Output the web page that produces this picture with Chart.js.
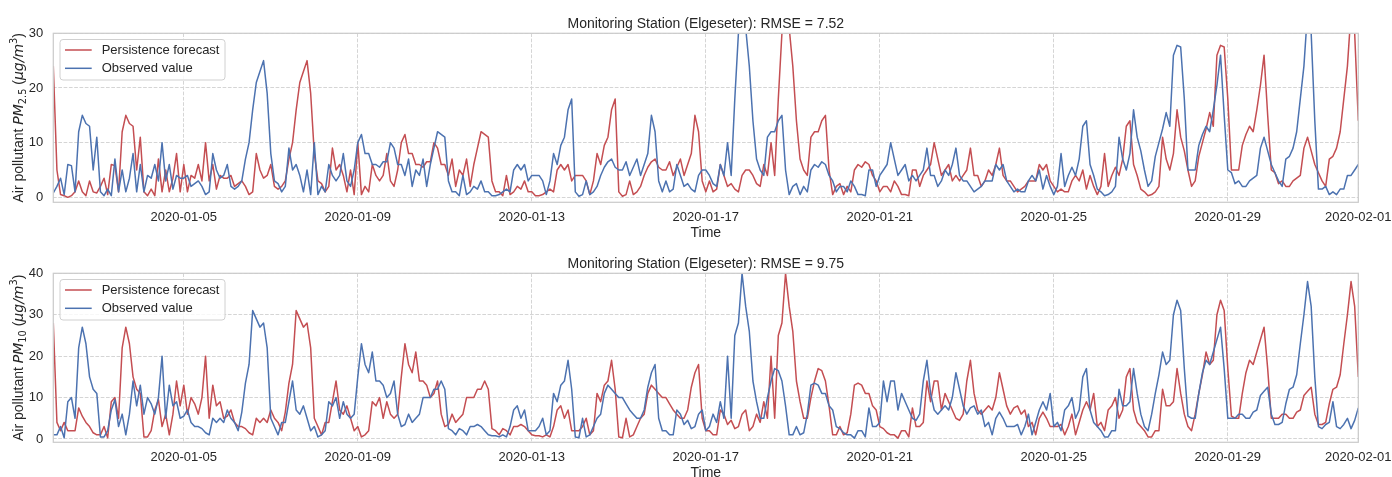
<!DOCTYPE html>
<html>
<head>
<meta charset="utf-8">
<script src="https://cdn.jsdelivr.net/npm/chart.js@4.4.1/dist/chart.umd.min.js"></script>
<style>
  html, body { margin: 0; padding: 0; background: #fff; }
  #wrap { position: relative; width: 1392px; height: 477px; overflow: hidden; }
  .panel { position: absolute; left: 0; width: 1392px; }
</style>
</head>
<body>
<div id="wrap">
  <div class="panel" style="top:0;height:240px"><canvas id="pm25-chart" width="1392" height="240"></canvas></div>
  <div class="panel" style="top:240px;height:237px"><canvas id="pm10-chart" width="1392" height="237"></canvas></div>
</div>
<script>
const START_DATE = '2020-01-02';
const END_DATE = '2020-02-01';
const STEP_HOURS = 2;

const timeTickLabels = ['2020-01-05', '2020-01-09', '2020-01-13', '2020-01-17', '2020-01-21', '2020-01-25', '2020-01-29', '2020-02-01'];
const pm25TickValues = [0, 10, 20, 30];
const pm10TickValues = [0, 10, 20, 30, 40];
const seriesNames = ['Persistence forecast', 'Observed value'];

// PM2.5, one row per day, every 2 hours from 00:00
const pm25Observed = [
  0.8, 2, 3.5, 0.5, 6, 5.8, 1, 12, 15, 13.5, 13, 5,        // 01-02
  11, 1, 0.3, 1.5, 0.3, 7, 1, 5, 1, 3.5, 8, 1,             // 01-03
  6, 1, 4, 3.5, 6, 3, 10, 3, 6, 1.5, 4, 3.5,               // 01-04
  3.5, 4, 2, 2.5, 3, 2, 0.5, 1, 8, 5, 3.5, 4,              // 01-05
  6, 2, 1.5, 2, 3, 7, 10, 16, 21, 23, 25, 19,              // 01-06
  8, 3, 2.5, 1, 2, 9, 5, 6, 4, 1, 5, 0.5,                  // 01-07
  10, 0.5, 2, 1, 6, 4, 3, 4, 8, 3, 2, 5,                   // 01-08
  10, 11.5, 8, 8, 6, 6, 5.5, 6.5, 6.5, 10, 9, 6,           // 01-09
  6, 4, 7, 2, 5, 4, 7, 2, 6, 9, 12, 11.5,                  // 01-10
  11, 3, 1, 1, 0.3, 4, 0.5, 1, 2, 1.5, 3, 1,               // 01-11
  1, 0.3, 0.3, 0.5, 1, 1.5, 1, 5, 6, 5, 6, 3,              // 01-12
  4, 4, 4, 3, 0.5, 3, 8, 6, 9.5, 11, 16, 18,               // 01-13
  1, 0.2, 0.5, 3, 0.5, 1, 2, 4, 5.5, 6.5, 7, 5.5,          // 01-14
  5, 5, 6.5, 4, 5.5, 7, 4, 6, 8, 15, 12, 3,                // 01-15
  1, 3, 1, 1.5, 6, 4, 2, 2.5, 1.5, 1, 4, 5,                // 01-16
  5, 4, 2.5, 2, 6, 4, 10, 4, 18, 30, 35, 31,               // 01-17
  24, 14, 7, 5, 4, 11, 12, 12, 14, 15, 5, 0.5,             // 01-18
  2, 2.5, 0.5, 2, 1, 5, 6, 5.5, 6.5, 6, 4, 3,              // 01-19
  1, 2, 2, 1, 3, 2, 0.5, 0.5, 0.3, 5, 5, 2,                // 01-20
  4, 5, 6, 10, 7, 4, 5, 6, 3, 4, 3, 4,                     // 01-21
  5, 9, 4, 4, 2, 3, 5, 4, 6, 9, 4, 3,                      // 01-22
  3, 2, 1, 1.5, 2, 3, 3, 3, 6, 5, 6, 3,                    // 01-23
  2, 1, 1.5, 1, 1, 3, 4, 3, 5, 1.5, 4, 2,                  // 01-24
  0.5, 2, 8, 2, 4, 5.5, 4, 7, 13, 14, 6, 4,                // 01-25
  1.5, 1, 0.3, 0.5, 1, 2, 11, 7, 5, 8, 16, 11,             // 01-26
  8.5, 5, 2, 3, 7.5, 10, 12.5, 15.5, 13, 26, 27.8, 27.5,   // 01-27
  18, 5, 5, 5, 9.5, 11.5, 13, 12, 16, 20.5, 26, 15,        // 01-28
  5, 4.5, 2.5, 3, 2, 2, 3, 3.5, 4, 9, 11, 8.5,             // 01-29
  6, 4.5, 3, 2, 7, 7.5, 9, 12, 18, 24, 34, 30,             // 01-30
  14, 1.5, 1.5, 2, 0.5, 1, 0.5, 1.5, 1.5, 4, 4, 5,         // 01-31
  6                                                        // 02-01
];

const pm25Persistence = [
  24, 5, 0.5, 0.3, 0, 0.3, 1, 3, 1, 0.3, 3, 1,             // 01-02
  0.8, 2, 3.5, 0.5, 6, 5.8, 1, 12, 15, 13.5, 13, 5,        // 01-03
  11, 1, 0.3, 1.5, 0.3, 7, 1, 5, 1, 3.5, 8, 1,             // 01-04
  6, 1, 4, 3.5, 6, 3, 10, 3, 6, 1.5, 4, 3.5,               // 01-05
  3.5, 4, 2, 2.5, 3, 2, 0.5, 1, 8, 5, 3.5, 4,              // 01-06
  6, 2, 1.5, 2, 3, 7, 10, 16, 21, 23, 25, 19,              // 01-07
  8, 3, 2.5, 1, 2, 9, 5, 6, 4, 1, 5, 0.5,                  // 01-08
  10, 0.5, 2, 1, 6, 4, 3, 4, 8, 3, 2, 5,                   // 01-09
  10, 11.5, 8, 8, 6, 6, 5.5, 6.5, 6.5, 10, 9, 6,           // 01-10
  6, 4, 7, 2, 5, 4, 7, 2, 6, 9, 12, 11.5,                  // 01-11
  11, 3, 1, 1, 0.3, 4, 0.5, 1, 2, 1.5, 3, 1,               // 01-12
  1, 0.3, 0.3, 0.5, 1, 1.5, 1, 5, 6, 5, 6, 3,              // 01-13
  4, 4, 4, 3, 0.5, 3, 8, 6, 9.5, 11, 16, 18,               // 01-14
  1, 0.2, 0.5, 3, 0.5, 1, 2, 4, 5.5, 6.5, 7, 5.5,          // 01-15
  5, 5, 6.5, 4, 5.5, 7, 4, 6, 8, 15, 12, 3,                // 01-16
  1, 3, 1, 1.5, 6, 4, 2, 2.5, 1.5, 1, 4, 5,                // 01-17
  5, 4, 2.5, 2, 6, 4, 10, 4, 18, 30, 35, 31,               // 01-18
  24, 14, 7, 5, 4, 11, 12, 12, 14, 15, 5, 0.5,             // 01-19
  2, 2.5, 0.5, 2, 1, 5, 6, 5.5, 6.5, 6, 4, 3,              // 01-20
  1, 2, 2, 1, 3, 2, 0.5, 0.5, 0.3, 5, 5, 2,                // 01-21
  4, 5, 6, 10, 7, 4, 5, 6, 3, 4, 3, 4,                     // 01-22
  5, 9, 4, 4, 2, 3, 5, 4, 6, 9, 4, 3,                      // 01-23
  3, 2, 1, 1.5, 2, 3, 3, 3, 6, 5, 6, 3,                    // 01-24
  2, 1, 1.5, 1, 1, 3, 4, 3, 5, 1.5, 4, 2,                  // 01-25
  0.5, 2, 8, 2, 4, 5.5, 4, 7, 13, 14, 6, 4,                // 01-26
  1.5, 1, 0.3, 0.5, 1, 2, 11, 7, 5, 8, 16, 11,             // 01-27
  8.5, 5, 2, 3, 7.5, 10, 12.5, 15.5, 13, 26, 27.8, 27.5,   // 01-28
  18, 5, 5, 5, 9.5, 11.5, 13, 12, 16, 20.5, 26, 15,        // 01-29
  5, 4.5, 2.5, 3, 2, 2, 3, 3.5, 4, 9, 11, 8.5,             // 01-30
  6, 4.5, 3, 2, 7, 7.5, 9, 12, 18, 24, 34, 30,             // 01-31
  14                                                       // 02-01
];

// PM10, same layout
const pm10Observed = [
  1, 1, 3, 0.3, 9, 10, 5, 22, 27, 23, 15, 12,              // 01-02
  11, 0.5, 0.5, 2, 7, 9.5, 3, 6, 1, 6, 14, 8,              // 01-03
  13, 6, 10, 8.5, 6, 10, 20, 5, 13, 8, 9, 5,               // 01-04
  5.5, 7, 4, 3, 3, 2.5, 1.5, 1, 5, 4, 5, 4,                // 01-05
  7, 5, 4, 2, 6.5, 13.5, 18, 31, 29, 27, 28, 22,           // 01-06
  5, 3, 1, 4, 4, 9, 14, 7, 6, 8, 5, 2,                     // 01-07
  3, 0.5, 1, 2, 9, 8, 10, 5, 9, 6, 5, 6,                   // 01-08
  15, 23, 18, 16, 21, 14, 14, 13, 10, 11, 14, 6,           // 01-09
  3, 3.5, 6, 4, 5, 6, 10, 10, 10, 12, 12, 14,              // 01-10
  12, 2.5, 2, 1, 2.5, 2, 1, 3, 3, 3.5, 3, 2,               // 01-11
  1, 0.8, 0.8, 0.5, 1, 0.5, 3, 7, 8, 5, 7, 2,              // 01-12
  2, 2, 3, 5, 1, 2, 11, 9, 13, 14, 19, 12,                 // 01-13
  0.5, 0.3, 5, 0.5, 1, 3, 5, 6, 11, 13, 12, 11,            // 01-14
  10, 10, 8.5, 7, 6, 5, 5, 7, 12.5, 16, 18, 5,             // 01-15
  2, 2, 1, 1, 7, 6, 3.5, 4.5, 2.5, 3, 6, 7,                // 01-16
  2, 3, 6, 4, 9, 5, 20, 5, 25, 28, 40, 32,                 // 01-17
  26, 14, 9, 5, 5, 10, 14, 17, 16.5, 14, 8, 1,             // 01-18
  1, 3, 1, 1.5, 6, 13, 13.5, 13, 11, 11, 8, 7,             // 01-19
  3, 2.5, 1.5, 1, 1, 0.2, 2, 2, 0.5, 7.5, 3, 3,            // 01-20
  4, 14, 9, 14, 14, 7, 11, 9, 7, 5, 4.5, 6,                // 01-21
  14, 19, 11, 7, 6, 7, 8, 7, 10, 16, 12, 8,                // 01-22
  6, 7.5, 8, 6, 7, 3, 4, 1, 5, 6.5, 5, 3,                  // 01-23
  3, 3, 3.5, 1, 3, 6, 1, 4, 7, 9, 7, 11,                   // 01-24
  3, 4, 2, 7, 8, 10, 5, 7, 15, 17, 7, 4,                   // 01-25
  3, 2, 0.5, 0.5, 2, 2, 12, 8, 8, 9, 17, 11,               // 01-26
  6, 3, 2, 6, 11, 15.5, 21, 18, 19, 30, 33.5, 31,          // 01-27
  17, 5.5, 5, 5, 11, 16, 19, 18, 21, 24, 27, 17,           // 01-28
  5, 5, 5, 6, 6, 5, 5, 6.5, 7, 10.5, 11.5, 12.5,           // 01-29
  6, 3.5, 3.5, 4, 8.5, 12, 12.5, 15.5, 23, 30, 38, 32,     // 01-30
  15, 3, 2.5, 3.5, 4, 9, 3, 2.5, 3.5, 5, 2.5, 4.5,         // 01-31
  7.5                                                      // 02-01
];

const pm10Persistence = [
  28, 4, 2, 4, 2, 2, 2, 7.5, 5.5, 4, 3, 1.5,               // 01-02
  1, 1, 3, 0.3, 9, 10, 5, 22, 27, 23, 15, 12,              // 01-03
  11, 0.5, 0.5, 2, 7, 9.5, 3, 6, 1, 6, 14, 8,              // 01-04
  13, 6, 10, 8.5, 6, 10, 20, 5, 13, 8, 9, 5,               // 01-05
  5.5, 7, 4, 3, 3, 2.5, 1.5, 1, 5, 4, 5, 4,                // 01-06
  7, 5, 4, 2, 6.5, 13.5, 18, 31, 29, 27, 28, 22,           // 01-07
  5, 3, 1, 4, 4, 9, 14, 7, 6, 8, 5, 2,                     // 01-08
  3, 0.5, 1, 2, 9, 8, 10, 5, 9, 6, 5, 6,                   // 01-09
  15, 23, 18, 16, 21, 14, 14, 13, 10, 11, 14, 6,           // 01-10
  3, 3.5, 6, 4, 5, 6, 10, 10, 10, 12, 12, 14,              // 01-11
  12, 2.5, 2, 1, 2.5, 2, 1, 3, 3, 3.5, 3, 2,               // 01-12
  1, 0.8, 0.8, 0.5, 1, 0.5, 3, 7, 8, 5, 7, 2,              // 01-13
  2, 2, 3, 5, 1, 2, 11, 9, 13, 14, 19, 12,                 // 01-14
  0.5, 0.3, 5, 0.5, 1, 3, 5, 6, 11, 13, 12, 11,            // 01-15
  10, 10, 8.5, 7, 6, 5, 5, 7, 12.5, 16, 18, 5,             // 01-16
  2, 2, 1, 1, 7, 6, 3.5, 4.5, 2.5, 3, 6, 7,                // 01-17
  2, 3, 6, 4, 9, 5, 20, 5, 25, 28, 40, 32,                 // 01-18
  26, 14, 9, 5, 5, 10, 14, 17, 16.5, 14, 8, 1,             // 01-19
  1, 3, 1, 1.5, 6, 13, 13.5, 13, 11, 11, 8, 7,             // 01-20
  3, 2.5, 1.5, 1, 1, 0.2, 2, 2, 0.5, 7.5, 3, 3,            // 01-21
  4, 14, 9, 14, 14, 7, 11, 9, 7, 5, 4.5, 6,                // 01-22
  14, 19, 11, 7, 6, 7, 8, 7, 10, 16, 12, 8,                // 01-23
  6, 7.5, 8, 6, 7, 3, 4, 1, 5, 6.5, 5, 3,                  // 01-24
  3, 3, 3.5, 1, 3, 6, 1, 4, 7, 9, 7, 11,                   // 01-25
  3, 4, 2, 7, 8, 10, 5, 7, 15, 17, 7, 4,                   // 01-26
  3, 2, 0.5, 0.5, 2, 2, 12, 8, 8, 9, 17, 11,               // 01-27
  6, 3, 2, 6, 11, 15.5, 21, 18, 19, 30, 33.5, 31,          // 01-28
  17, 5.5, 5, 5, 11, 16, 19, 18, 21, 24, 27, 17,           // 01-29
  5, 5, 5, 6, 6, 5, 5, 6.5, 7, 10.5, 11.5, 12.5,           // 01-30
  6, 3.5, 3.5, 4, 8.5, 12, 12.5, 15.5, 23, 30, 38, 32,     // 01-31
  15                                                       // 02-01
];

const FONT = "'Liberation Sans', Arial, Helvetica, sans-serif";
const MATH_FONT = "'DejaVu Sans', sans-serif";
const TEXT_COLOR = '#262626';
const RED = '#c44e52';
const BLUE = '#4c72b0';

document.addEventListener('DOMContentLoaded', function() {

    Chart.defaults.font.family = FONT;
    Chart.defaults.color = TEXT_COLOR;

    drawPanel('pm25-chart', {
        title: 'Monitoring Station (Elgeseter): RMSE = 7.52',
        pollutantSub: '2.5',
        yMin: -0.91,
        yMax: 30,
        yTicks: pm25TickValues,
        observed: pm25Observed,
        persistence: pm25Persistence
    });

    drawPanel('pm10-chart', {
        title: 'Monitoring Station (Elgeseter): RMSE = 9.75',
        pollutantSub: '10',
        yMin: -0.8,
        yMax: 40,
        yTicks: pm10TickValues,
        observed: pm10Observed,
        persistence: pm10Persistence
    });
})


function hoursFromStart(dateText){
    return (Date.parse(dateText) - Date.parse(START_DATE)) / 3600000;
}

function toPoints(values){
    return values.map((v, i) => ({ x: i * STEP_HOURS, y: v }));
}


function drawPanel(canvasId, panel){

    const xTickValues = timeTickLabels.map(hoursFromStart);
    const colors = [RED, BLUE];

    new Chart(document.getElementById(canvasId), {
        type: 'line',
        data: {
            datasets: [
                { label: seriesNames[0], data: toPoints(panel.persistence), borderColor: RED, order: 2 },
                { label: seriesNames[1], data: toPoints(panel.observed), borderColor: BLUE, order: 1 }
            ]
        },
        options: {
            responsive: false,
            animation: false,
            events: [],
            clip: 0,
            elements: {
                line: { borderWidth: 1.5, tension: 0, borderJoinStyle: 'round' },
                point: { radius: 0 }
            },
            layout: { padding: { left: 0, right: 33.7, top: 33.3, bottom: panelBottomPad(canvasId) } },
            plugins: { legend: { display: false }, tooltip: { enabled: false } },
            scales: {
                x: {
                    type: 'linear',
                    min: 0,
                    max: hoursFromStart(END_DATE),
                    // fixed height, and the last date label may hang past the axes
                    afterFit: s => { s.height = 30; s.paddingLeft = 0; s.paddingRight = 0; },
                    afterBuildTicks: s => { s.ticks = xTickValues.map(v => ({ value: v })); },
                    grid: { color: '#d5d5d5', lineWidth: 1, drawTicks: false },
                    border: { display: false, dash: [3.7, 1.6] },
                    ticks: {
                        autoSkip: false,
                        maxRotation: 0,
                        padding: 7,
                        font: { size: 13 },
                        color: TEXT_COLOR,
                        callback: v => timeTickLabels[xTickValues.indexOf(v)]
                    }
                },
                y: {
                    min: panel.yMin,
                    max: panel.yMax,
                    afterFit: s => { s.width = 53.3; s.paddingTop = 0; s.paddingBottom = 0; },
                    afterBuildTicks: s => { s.ticks = panel.yTicks.map(v => ({ value: v })); },
                    grid: { color: '#d5d5d5', lineWidth: 1, drawTicks: false },
                    border: { display: false, dash: [3.7, 1.6] },
                    ticks: { padding: 10, font: { size: 13 }, color: TEXT_COLOR }
                }
            }
        },
        plugins: [panelDecor(panel, colors)]
    });
}

function panelBottomPad(canvasId){
    const h = document.getElementById(canvasId).height;
    return h - 202.3 - 30;
}


function panelDecor(panel, colors){

    return {
        id: 'panelDecor',
        afterDatasetsDraw(chart){
            const { ctx, chartArea: a } = chart;
            ctx.save();

            // spines
            ctx.strokeStyle = '#cccccc';
            ctx.lineWidth = 1.25;
            ctx.strokeRect(a.left, a.top, a.right - a.left, a.bottom - a.top);

            // legend, top left inside the axes
            const bx = a.left + 6.7, by = a.top + 6.2, bw = 165, bh = 40.5;
            ctx.beginPath();
            ctx.roundRect(bx, by, bw, bh, 3);
            ctx.fillStyle = 'rgba(255,255,255,0.8)';
            ctx.fill();
            ctx.strokeStyle = '#d0d0d0';
            ctx.lineWidth = 1;
            ctx.stroke();

            ctx.font = '13px ' + FONT;
            ctx.textBaseline = 'middle';
            chart.data.datasets.forEach((ds, i) => {
                const ly = by + 10.5 + i * 18.3;
                ctx.strokeStyle = colors[i];
                ctx.lineWidth = 1.5;
                ctx.beginPath();
                ctx.moveTo(bx + 5, ly);
                ctx.lineTo(bx + 31.7, ly);
                ctx.stroke();
                ctx.fillStyle = TEXT_COLOR;
                ctx.fillText(ds.label, bx + 41.7, ly);
            });

            ctx.restore();
        },
        afterDraw(chart){
            const { ctx, chartArea: a } = chart;
            const cx = (a.left + a.right) / 2;
            ctx.save();
            ctx.fillStyle = TEXT_COLOR;
            ctx.textBaseline = 'alphabetic';
            ctx.textAlign = 'center';

            ctx.font = '14px ' + FONT;
            ctx.fillText(panel.title, cx, 28.3);
            ctx.fillText('Time', cx, a.bottom + 34.8);

            drawYLabel(ctx, 22.5, (a.top + a.bottom) / 2, panel.pollutantSub);
            ctx.restore();
        }
    };
}

// "Air pollutant PM_sub (μg/m^3)" rotated; the math parts in DejaVu like mathtext
function drawYLabel(ctx, x, y, sub){

    const parts = [
        { text: 'Air pollutant ', font: '14px ' + FONT, dy: 0 },
        { text: 'PM', font: 'italic 14px ' + MATH_FONT, dy: 0 },
        { text: sub, font: '9.8px ' + MATH_FONT, dy: 3 },
        { text: ' (', font: '14px ' + FONT, dy: 0 },
        { text: '\u03bcg/m', font: 'italic 14px ' + MATH_FONT, dy: 0 },
        { text: '3', font: '9.8px ' + MATH_FONT, dy: -6 },
        { text: ')', font: '14px ' + FONT, dy: 0 }
    ];

    let total = 0;
    parts.forEach(p => {
        ctx.font = p.font;
        p.w = ctx.measureText(p.text).width;
        total += p.w;
    });

    ctx.save();
    ctx.translate(x, y);
    ctx.rotate(-Math.PI / 2);
    ctx.textAlign = 'left';
    ctx.textBaseline = 'alphabetic';
    let pos = -total / 2;
    parts.forEach(p => {
        ctx.font = p.font;
        ctx.fillText(p.text, pos, p.dy);
        pos += p.w;
    });
    ctx.restore();
}
</script>
</body>
</html>
